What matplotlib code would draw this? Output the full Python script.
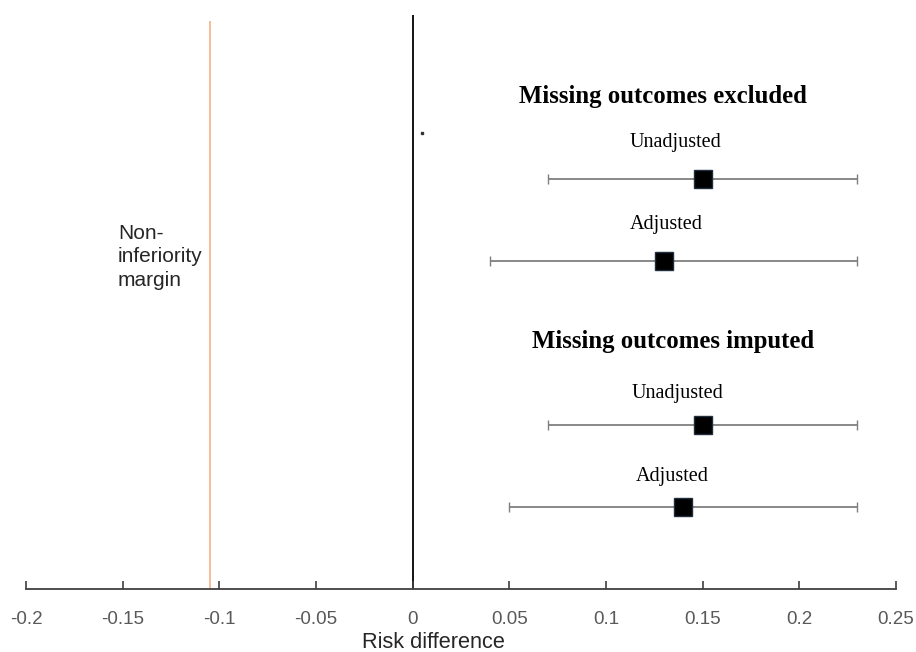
import matplotlib
matplotlib.use("Agg")
import matplotlib.pyplot as plt

# Data
groups = ["Missing outcomes excluded", "Missing outcomes imputed"]
labels = ["Unadjusted", "Adjusted", "Unadjusted", "Adjusted"]
estimates = [0.15, 0.13, 0.15, 0.14]
ci_low = [0.07, 0.04, 0.07, 0.05]
ci_high = [0.23, 0.23, 0.23, 0.23]
margin = -0.105
xticks = [-0.2, -0.15, -0.1, -0.05, 0, 0.05, 0.1, 0.15, 0.2, 0.25]
xticklabels = ["-0.2", "-0.15", "-0.1", "-0.05", "0", "0.05", "0.1", "0.15", "0.2", "0.25"]

# Layout (row positions and text placement)
rows = [1, 2, 4, 5]
group_rows = [0.0, 2.98]
group_x = [0.1294, 0.1348]
label_x = [0.1357, 0.1313, 0.1372, 0.1343]
label_dy = [-0.44, -0.44, -0.39, -0.37]

fig = plt.figure(figsize=(9.16, 6.52), dpi=100)
ax = fig.add_axes([26/916, 1-589/652, 870/916, (589-15)/652])

ax.set_xlim(-0.2, 0.25)
ax.set_ylim((589-97)/82, (15-97)/82)

# margin line and zero line
ax.plot([margin, margin], [ax.get_ylim()[0], (22-97)/82], color="#f5bc96", lw=1.4, zorder=1)
ax.axvline(0, color="black", lw=1.3, zorder=1)

# small dot artifact
ax.plot([0.0047], [(133-97)/82], marker='s', ms=1.5, color='#333333', ls='none')

for r, e, lo, hi, lab, lx, dy in zip(rows, estimates, ci_low, ci_high, labels, label_x, label_dy):
    ax.errorbar([e], [r], xerr=[[e-lo], [hi-e]], fmt='none', ecolor="#7f7f7f",
                elinewidth=1.3, capsize=3.5, capthick=1.0, zorder=2)
    ax.plot([e], [r], marker='s', ms=13, color='black', mec='#1f2d3d', ls='none', zorder=3)
    ax.text(lx, r + dy, lab, ha='center', va='center', fontsize=14.5,
            family='Liberation Serif', color='black')

for g, gr, gx in zip(groups, group_rows, group_x):
    ax.text(gx, gr, g, ha='center', va='center', fontsize=17.8, fontweight='bold',
            family='Liberation Serif', color='black')

ax.text(-0.1525, (257-97)/82, "Non-\ninferiority\nmargin", ha='left', va='center',
        fontsize=15, family='Liberation Sans', color='#262626', linespacing=1.3)

for s in ['top', 'right', 'left']:
    ax.spines[s].set_visible(False)
ax.spines['bottom'].set_color('#404040')
ax.spines['bottom'].set_linewidth(1.3)
ax.set_yticks([])
ax.set_xticks(xticks)
ax.set_xticklabels(xticklabels, family='Liberation Sans', fontsize=13.5, color='#595959')
ax.tick_params(axis='x', direction='in', length=6, width=1.2, color='#404040', pad=16)
ax.set_xlabel("Risk difference", family='Liberation Sans', fontsize=15.7, color='#262626', labelpad=6)
ax.xaxis.set_label_coords((433.5-26)/870, -(643-589)/574, transform=ax.transAxes)
ax.xaxis.label.set_va('center')

fig.savefig("out.png", dpi=100)
